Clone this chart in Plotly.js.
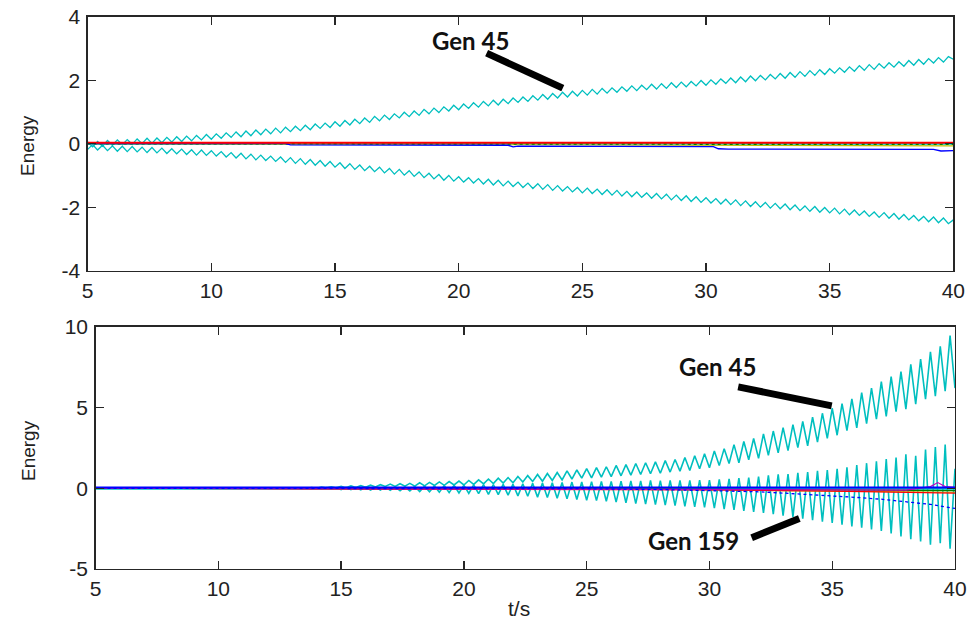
<!DOCTYPE html>
<html>
<head>
<meta charset="utf-8">
<script src="https://cdn.plot.ly/plotly-3.0.1.min.js"></script>
<style>html,body{margin:0;padding:0;background:#fff;}#chart{width:972px;height:622px;}</style>
</head>
<body>
<div id="chart"></div>
<script>
// ---- shared time axis (s) ----
const t = [
5,5.2,5.4,5.6,5.8, 6,6.2,6.4,6.6,6.8, 7,7.2,7.4,7.6,7.8, 8,8.2,8.4,8.6,8.8, 9,9.2,9.4,9.6,9.8,
10,10.2,10.4,10.6,10.8, 11,11.2,11.4,11.6,11.8, 12,12.2,12.4,12.6,12.8, 13,13.2,13.4,13.6,13.8, 14,14.2,14.4,14.6,14.8,
15,15.2,15.4,15.6,15.8, 16,16.2,16.4,16.6,16.8, 17,17.2,17.4,17.6,17.8, 18,18.2,18.4,18.6,18.8, 19,19.2,19.4,19.6,19.8,
20,20.2,20.4,20.6,20.8, 21,21.2,21.4,21.6,21.8, 22,22.2,22.4,22.6,22.8, 23,23.2,23.4,23.6,23.8, 24,24.2,24.4,24.6,24.8,
25,25.2,25.4,25.6,25.8, 26,26.2,26.4,26.6,26.8, 27,27.2,27.4,27.6,27.8, 28,28.2,28.4,28.6,28.8, 29,29.2,29.4,29.6,29.8,
30,30.2,30.4,30.6,30.8, 31,31.2,31.4,31.6,31.8, 32,32.2,32.4,32.6,32.8, 33,33.2,33.4,33.6,33.8, 34,34.2,34.4,34.6,34.8,
35,35.2,35.4,35.6,35.8, 36,36.2,36.4,36.6,36.8, 37,37.2,37.4,37.6,37.8, 38,38.2,38.4,38.6,38.8, 39,39.2,39.4,39.6,39.8,
40];

// ---- top panel: Gen 45 energy (upper) and its counterpart (lower) ----
const topUpper = [
0.05,-0.10,0.07,-0.08,0.10, -0.05,0.12,-0.03,0.13,-0.02, 0.15,0.00,0.17,0.01,0.18, 0.03,0.20,0.05,0.22,0.07, 0.24,0.09,0.26,0.12,0.29,
0.14,0.31,0.17,0.34,0.20, 0.37,0.22,0.40,0.25,0.43, 0.28,0.46,0.31,0.49,0.34, 0.52,0.38,0.55,0.41,0.58, 0.44,0.62,0.48,0.65,0.51,
0.69,0.55,0.73,0.59,0.77, 0.63,0.81,0.67,0.86,0.72, 0.90,0.76,0.94,0.81,0.99, 0.85,1.03,0.89,1.08,0.94, 1.12,0.98,1.16,1.03,1.21,
1.07,1.25,1.11,1.29,1.15, 1.33,1.19,1.37,1.22,1.40, 1.26,1.44,1.30,1.47,1.33, 1.51,1.37,1.55,1.40,1.58, 1.44,1.62,1.47,1.65,1.50,
1.68,1.53,1.71,1.56,1.74, 1.59,1.76,1.62,1.79,1.65, 1.82,1.67,1.84,1.70,1.87, 1.72,1.89,1.74,1.92,1.77, 1.94,1.79,1.96,1.82,1.99,
1.84,2.01,1.87,2.04,1.90, 2.07,1.92,2.10,1.95,2.13, 1.98,2.15,2.01,2.18,2.04, 2.21,2.06,2.24,2.09,2.27, 2.12,2.30,2.15,2.33,2.18,
2.36,2.22,2.39,2.25,2.42, 2.28,2.46,2.31,2.49,2.34, 2.52,2.38,2.55,2.41,2.58, 2.44,2.62,2.47,2.65,2.50, 2.68,2.54,2.71,2.57,2.74,
2.66];
const topLower = [
-0.18,-0.03,-0.20,-0.05,-0.22, -0.07,-0.24,-0.08,-0.25,-0.09, -0.26,-0.11,-0.28,-0.12,-0.29, -0.14,-0.31,-0.16,-0.32,-0.17, -0.34,-0.19,-0.36,-0.20,-0.37,
-0.22,-0.39,-0.25,-0.42,-0.28, -0.45,-0.30,-0.48,-0.33,-0.51, -0.36,-0.53,-0.39,-0.56,-0.42, -0.59,-0.44,-0.62,-0.47,-0.65, -0.50,-0.68,-0.53,-0.71,-0.56,
-0.74,-0.60,-0.78,-0.63,-0.81, -0.67,-0.85,-0.71,-0.88,-0.74, -0.92,-0.78,-0.96,-0.81,-0.99, -0.85,-1.03,-0.89,-1.07,-0.93, -1.11,-0.97,-1.15,-1.00,-1.18,
-1.04,-1.21,-1.07,-1.24,-1.10, -1.27,-1.12,-1.30,-1.15,-1.33, -1.18,-1.35,-1.21,-1.38,-1.24, -1.41,-1.26,-1.44,-1.29,-1.47, -1.32,-1.49,-1.35,-1.52,-1.38,
-1.55,-1.40,-1.57,-1.43,-1.60, -1.45,-1.62,-1.47,-1.65,-1.50, -1.67,-1.52,-1.69,-1.55,-1.72, -1.57,-1.74,-1.59,-1.77,-1.62, -1.79,-1.64,-1.82,-1.67,-1.85,
-1.70,-1.87,-1.73,-1.90,-1.75, -1.92,-1.77,-1.95,-1.80,-1.98, -1.83,-2.00,-1.85,-2.03,-1.88, -2.05,-1.90,-2.08,-1.93,-2.11, -1.96,-2.13,-1.98,-2.16,-2.01,
-2.18,-2.03,-2.21,-2.06,-2.24, -2.09,-2.26,-2.12,-2.29,-2.15, -2.32,-2.17,-2.35,-2.20,-2.38, -2.23,-2.40,-2.26,-2.43,-2.29, -2.46,-2.31,-2.49,-2.34,-2.52,
-2.40];

// near-zero generators, top panel
const topFlatT = [5, 40];
const topRed = [0.03, 0.03];
const topGreen = [0.0, -0.02];
const topCyanFlat = [0.0, 0.0];
const topYellowT = [5, 30, 40];
const topYellow = [0.0, -0.05, -0.07];
const topBlueT = [5, 13, 13.2, 22, 22.2, 22.4, 30.3, 30.5, 30.9, 39.2, 39.5, 40];
const topBlue = [0, 0, -0.04, -0.05, -0.10, -0.08, -0.09, -0.16, -0.17, -0.18, -0.23, -0.22];

// ---- bottom panel ----
const botUpper = [
0,0,0,0,0, 0,0,0,0,0, 0,0,0,0,0, 0,0,0,0,0, 0,0,0,0,0,
0,0,0,0,0, 0,0,0,0,0, 0,0,0,0,0, 0.02,-0.01,0.03,0.00,0.04, 0.00,0.07,0.02,0.08,0.03,
0.12,0.03,0.14,0.05,0.16, 0.06,0.19,0.08,0.22,0.11, 0.26,0.11,0.28,0.13,0.30, 0.13,0.34,0.15,0.36,0.17, 0.39,0.18,0.41,0.20,0.44,
0.20,0.48,0.24,0.52,0.27, 0.57,0.29,0.62,0.32,0.66, 0.34,0.73,0.38,0.78,0.42, 0.85,0.43,0.91,0.48,0.97, 0.51,1.07,0.57,1.13,0.62,
1.22,0.64,1.28,0.69,1.33, 0.72,1.41,0.77,1.46,0.81, 1.53,0.85,1.58,0.90,1.63, 0.93,1.71,1.00,1.78,1.06, 1.90,1.10,2.01,1.21,2.13,
1.27,2.31,1.40,2.45,1.53, 2.70,1.58,2.89,1.76,3.08, 1.85,3.36,2.03,3.54,2.19, 3.75,2.33,3.94,2.51,4.13, 2.63,4.40,2.86,4.64,3.09,
4.95,3.28,5.24,3.56,5.53, 3.73,5.92,4.00,6.20,4.27, 6.60,4.44,6.91,4.74,7.22, 4.90,7.67,5.21,7.99,5.52, 8.45,5.70,8.79,6.01,9.45,
6.20];
const botLower = [
0,0,0,0,0, 0,0,0,0,0, 0,0,0,0,0, 0,0,0,0,0, 0,0,0,0,0,
0,0,0,0,0, 0,0,0,0,0, 0,0,0,0,0, -0.02,0.02,-0.03,0.03,-0.04, 0.03,-0.05,0.04,-0.06,0.04,
-0.08,0.05,-0.09,0.05,-0.10, 0.06,-0.11,0.07,-0.12,0.08, -0.13,0.08,-0.15,0.09,-0.17, 0.11,-0.20,0.13,-0.22,0.14, -0.25,0.16,-0.27,0.18,-0.29,
0.19,-0.32,0.21,-0.34,0.22, -0.38,0.23,-0.40,0.24,-0.43, 0.25,-0.47,0.28,-0.50,0.30, -0.55,0.32,-0.58,0.34,-0.62, 0.36,-0.66,0.38,-0.70,0.39,
-0.74,0.41,-0.77,0.42,-0.81, 0.42,-0.86,0.44,-0.90,0.45, -0.95,0.46,-0.98,0.48,-1.01, 0.47,-1.05,0.48,-1.08,0.49, -1.12,0.49,-1.15,0.50,-1.18,
0.50,-1.23,0.55,-1.29,0.58, -1.34,0.62,-1.40,0.66,-1.46, 0.72,-1.52,0.80,-1.60,0.86, -1.70,0.88,-1.78,0.95,-1.88, 1.00,-1.98,1.07,-2.07,1.13,
-2.15,1.20,-2.25,1.30,-2.37, 1.44,-2.45,1.55,-2.55,1.66, -2.65,1.80,-2.80,1.90,-2.98, 2.10,-3.15,2.00,-3.30,2.40, -3.50,2.55,-3.40,2.70,-3.75,
1.20];

const botFlatT = [5, 40];
const botBlueFlat = [0.05, 0.05];
const botCyanFlat = [-0.03, -0.03];
const botGreenT = [5, 25, 30, 35, 40];
const botGreen = [0, -0.03, -0.06, -0.10, -0.15];
const botYellowT = [5, 28, 33, 36, 40];
const botYellow = [0, -0.05, -0.15, -0.20, -0.25];
const botRedT = [5, 30, 35, 40];
const botRed = [0, -0.10, -0.18, -0.30];
const botMagT = [5, 30, 35, 38, 39, 39.3, 39.6, 40];
const botMag = [0, -0.05, -0.10, -0.12, 0.10, 0.35, 0.10, 0.05];
const botBlueT = [5, 22, 25, 28, 30, 32, 33, 34, 35, 36, 37, 38, 39, 40];
const botBlue = [0, 0, -0.03, -0.08, -0.13, -0.22, -0.30, -0.38, -0.47, -0.57, -0.68, -0.82, -1.00, -1.25];

// ---- ticks ----
const xTicks = [5, 10, 15, 20, 25, 30, 35, 40];
const xTickText = ['5', '10', '15', '20', '25', '30', '35', '40'];
const yTopTicks = [-4, -2, 0, 2, 4];
const yTopText = ['-4', '-2', '0', '2', '4'];
const yBotTicks = [-5, 0, 5, 10];
const yBotText = ['-5', '0', '5', '10'];

const CY = '#00bfbf';
function ln(x, y, color, width, xa, ya, dash) {
  return {x: x, y: y, type: 'scatter', mode: 'lines', xaxis: xa, yaxis: ya,
          line: {color: color, width: width, dash: dash || 'solid'}, hoverinfo: 'skip', showlegend: false};
}

const data = [
  ln(t, topUpper, CY, 1.3, 'x', 'y'),
  ln(t, topLower, CY, 1.3, 'x', 'y'),
  ln(topFlatT, topCyanFlat, CY, 2, 'x', 'y'),
  ln(topYellowT, topYellow, '#bfbf00', 1.2, 'x', 'y'),
  ln(topFlatT, topGreen, '#008000', 1.5, 'x', 'y', 'dot'),
  ln(topBlueT, topBlue, '#0000ff', 1.3, 'x', 'y'),
  ln(topFlatT, topRed, '#ff0000', 1.8, 'x', 'y'),

  ln(t, botLower, CY, 1.6, 'x2', 'y2'),
  ln(t, botUpper, CY, 1.6, 'x2', 'y2'),
  ln(botFlatT, botCyanFlat, CY, 2, 'x2', 'y2'),
  ln(botYellowT, botYellow, '#bfbf00', 1.2, 'x2', 'y2'),
  ln(botGreenT, botGreen, '#008000', 1.2, 'x2', 'y2'),
  ln(botRedT, botRed, '#ff0000', 1.2, 'x2', 'y2'),
  ln(botMagT, botMag, '#bf00bf', 1.2, 'x2', 'y2'),
  ln(botBlueT, botBlue, '#0000ff', 1.3, 'x2', 'y2', 'dot'),
  ln(botFlatT, botBlueFlat, '#0000ff', 2, 'x2', 'y2')
];

const TF = {family: '"Liberation Sans", Arial, sans-serif', size: 21, color: '#222'};
const LF = {family: '"Liberation Sans", Arial, sans-serif', size: 19, color: '#222'};
const SF = {family: '"Liberation Sans", Arial, sans-serif', size: 21, color: '#222'};
function ax(extra) {
  return Object.assign({
    showgrid: false, zeroline: false, showline: true, linecolor: '#262626', linewidth: 1.3,
    mirror: 'allticks', ticks: 'inside', ticklen: 8, tickwidth: 1.3, tickcolor: '#262626',
    tickfont: TF, tickmode: 'array', fixedrange: true
  }, extra);
}

const AF = {family: 'Lato, "Open Sans", sans-serif', size: 24, color: '#111'};
const layout = {
  width: 972, height: 622,
  margin: {l: 0, r: 0, t: 0, b: 0},
  paper_bgcolor: '#fff', plot_bgcolor: '#fff',
  showlegend: false,
  xaxis: ax({domain: [0.0902, 0.9808], anchor: 'y', range: [5, 40], tickvals: xTicks, ticktext: xTickText, ticklabelstandoff: 1}),
  yaxis: ax({domain: [0.5648, 0.9732], anchor: 'x', range: [-4, 4], tickvals: yTopTicks, ticktext: yTopText, ticklabelstandoff: 2}),
  xaxis2: ax({domain: [0.0983, 0.9825], anchor: 'y2', range: [5, 40], tickvals: xTicks, ticktext: xTickText, ticklabelstandoff: 0}),
  yaxis2: ax({domain: [0.0852, 0.4748], anchor: 'x2', range: [-5, 10], tickvals: yBotTicks, ticktext: yBotText, ticklabelstandoff: 2}),
  shapes: [
    {type: 'line', xref: 'x', yref: 'y', x0: 21.13, y0: 2.85, x1: 24.21, y1: 1.75, line: {color: '#000', width: 7}},
    {type: 'line', xref: 'x2', yref: 'y2', x0: 31.17, y0: 6.27, x1: 34.98, y1: 5.10, line: {color: '#000', width: 7}},
    {type: 'line', xref: 'x2', yref: 'y2', x0: 31.72, y0: -3.06, x1: 33.66, y1: -1.88, line: {color: '#000', width: 7}}
  ],
  annotations: [
    {xref: 'x', yref: 'y', x: 20.48, y: 3.24, text: '<b>Gen 45</b>', showarrow: false, font: AF},
    {xref: 'x2', yref: 'y2', x: 30.31, y: 7.51, text: '<b>Gen 45</b>', showarrow: false, font: AF},
    {xref: 'x2', yref: 'y2', x: 29.37, y: -3.26, text: '<b>Gen 159</b>', showarrow: false, font: AF},
    {xref: 'paper', yref: 'paper', x: 0.0288, y: 0.767, xanchor: 'center', yanchor: 'middle', text: 'Energy', textangle: -90, showarrow: false, font: LF},
    {xref: 'paper', yref: 'paper', x: 0.0288, y: 0.2765, xanchor: 'center', yanchor: 'middle', text: 'Energy', textangle: -90, showarrow: false, font: LF},
    {xref: 'paper', yref: 'paper', x: 0.534, y: 0.0225, xanchor: 'center', yanchor: 'middle', text: 't/s', showarrow: false, font: SF}
  ]
};

Plotly.newPlot('chart', data, layout, {staticPlot: true, displayModeBar: false});
</script>
</body>
</html>
